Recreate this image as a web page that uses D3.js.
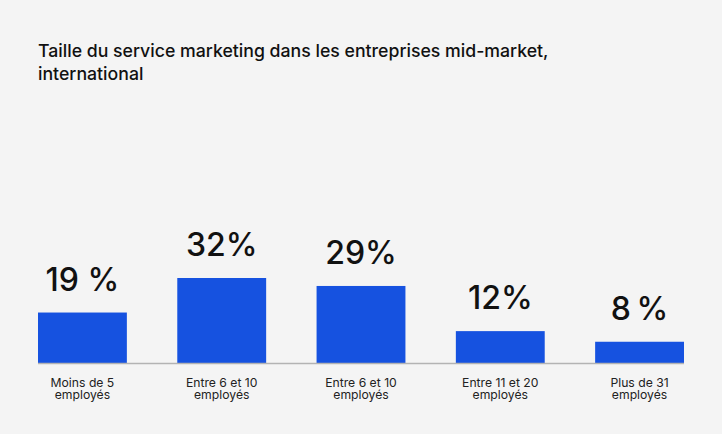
<!DOCTYPE html>
<html>
<head>
<meta charset="utf-8">
<script src="https://cdn.jsdelivr.net/npm/d3@7"></script>
<style>
  html, body { margin: 0; padding: 0; background: #f4f4f4; }
  svg { display: block; font-family: Inter, "Noto Sans", sans-serif; }
</style>
</head>
<body>
<svg id="chart" width="722" height="434"></svg>
<script>
// Data
const categories = [
    ["Moins de 5", "employés"],
    ["Entre 6 et 10", "employés"],
    ["Entre 6 et 10", "employés"],
    ["Entre 11 et 20", "employés"],
    ["Plus de 31", "employés"]
];
const values = [19, 32, 29, 12, 8];
const valueLabels = ["19 %", "32%", "29%", "12%", "8\u2009%"];
const titleLines = [
    "Taille du service marketing dans les entreprises mid-market,",
    "international"
];

const width = 722, height = 434;
const baseY = 363;
const barColour = "#1652e0";

const svg = d3.select("#chart");

svg.append("rect")
    .attr("width", width)
    .attr("height", height)
    .attr("fill", "#f4f4f4");

// Title
svg.append("text")
    .attr("x", 38)
    .attr("y", 57)
    .attr("font-size", 17.7)
    .attr("font-weight", 500)
    .attr("fill", "#111")
    .selectAll("tspan")
    .data(titleLines)
    .join("tspan")
    .attr("x", 38)
    .attr("dy", (d, i) => i === 0 ? 0 : 23)
    .text(d => d);

const x = d3.scaleBand()
    .domain(d3.range(values.length))
    .range([38, 684])
    .paddingInner(0.362)
    .paddingOuter(0);

// 32% maps to ~85px of bar height
const y = d3.scaleLinear()
    .domain([0, 32])
    .range([baseY, baseY - 85]);

// Bars
svg.append("g")
    .selectAll("rect")
    .data(values)
    .join("rect")
    .attr("x", (d, i) => x(i))
    .attr("y", d => y(d))
    .attr("width", x.bandwidth())
    .attr("height", d => baseY - y(d))
    .attr("fill", barColour);

// Baseline
svg.append("line")
    .attr("x1", 38)
    .attr("x2", 684)
    .attr("y1", baseY + 0.5)
    .attr("y2", baseY + 0.5)
    .attr("stroke", "#b3b3b3")
    .attr("stroke-width", 1.6);

// Value labels
svg.append("g")
    .selectAll("text")
    .data(values)
    .join("text")
    .attr("x", (d, i) => x(i) + x.bandwidth() / 2)
    .attr("y", d => y(d) - 22)
    .attr("text-anchor", "middle")
    .attr("font-size", 32)
    .attr("font-weight", 500)
    .attr("fill", "#111")
    .text((d, i) => valueLabels[i]);

// Category labels
svg.append("g")
    .selectAll("text")
    .data(categories)
    .join("text")
    .attr("x", (d, i) => x(i) + x.bandwidth() / 2)
    .attr("y", 387)
    .attr("text-anchor", "middle")
    .attr("font-size", 12.2)
    .attr("fill", "#222")
    .selectAll("tspan")
    .data(d => d)
    .join("tspan")
    .attr("x", function() { return this.parentNode.getAttribute("x"); })
    .attr("dy", (d, i) => i === 0 ? 0 : 12.4)
    .text(d => d);
</script>
</body>
</html>
